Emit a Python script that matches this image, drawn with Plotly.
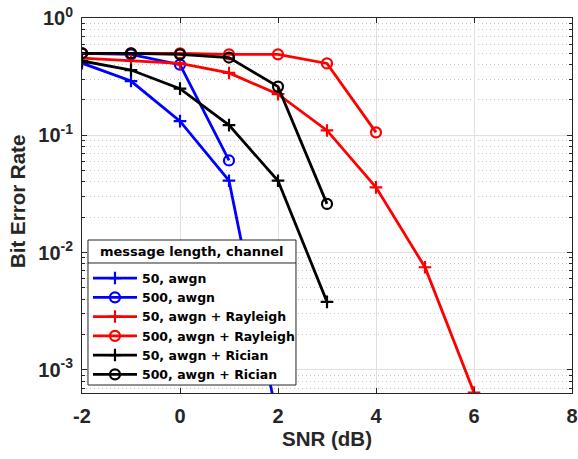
import plotly.graph_objects as go
import numpy as np

snr = [-2, -1, 0, 1, 2, 3, 4, 5, 6]

ber_50_awgn = [0.412, 0.29, 0.132, 0.041, 3.6e-4]
ber_500_awgn = [0.50, 0.49, 0.40, 0.061]
ber_50_rayleigh = [0.455, 0.43, 0.41, 0.34, 0.224, 0.11, 0.036, 0.0075, 6.4e-4]
ber_500_rayleigh = [0.50, 0.50, 0.50, 0.49, 0.49, 0.41, 0.106]
ber_50_rician = [0.43, 0.36, 0.25, 0.122, 0.041, 0.0038]
ber_500_rician = [0.50, 0.50, 0.49, 0.46, 0.26, 0.026]

series = [
    ("50, awgn", ber_50_awgn, "#0000FF", "cross-thin-open"),
    ("500, awgn", ber_500_awgn, "#0000FF", "circle-open"),
    ("50, awgn + Rayleigh", ber_50_rayleigh, "#FF0000", "cross-thin-open"),
    ("500, awgn + Rayleigh", ber_500_rayleigh, "#FF0000", "circle-open"),
    ("50, awgn + Rician", ber_50_rician, "#000000", "cross-thin-open"),
    ("500, awgn + Rician", ber_500_rician, "#000000", "circle-open"),
]
legend_title = "message length, channel"
y_title = "Bit Error Rate"

ytick_vals = [1e-3, 1e-2, 1e-1, 1]
ytick_text = ["10<sup>-3</sup>", "10<sup>-2</sup>", "10<sup>-1</sup>", "10<sup>0</sup>"]
minor_vals = [m * 10.0 ** e for e in (-4, -3, -2, -1) for m in range(2, 10)]

fig = go.Figure()
for name, ys, color, sym in series:
    fig.add_trace(go.Scatter(
        x=snr[:len(ys)], y=ys, name=name, mode="lines+markers",
        line=dict(color=color, width=2.8),
        marker=dict(symbol=sym, size=10 if "circle" in sym else 9,
                    color=color, line=dict(color=color, width=2.2)),
    ))

axcol = "#262626"
fam = "Liberation Sans, Arial, sans-serif"
legfam = "DejaVu Sans, Liberation Sans, sans-serif"

# legend box geometry (paper coords)
bx0, bx1, by0, by1, bsep = 0.0122, 0.4367, 0.0213, 0.408, 0.3467

fig.update_layout(
    width=578, height=459,
    margin=dict(l=82, r=6, t=18, b=66, autoexpand=False),
    paper_bgcolor="white", plot_bgcolor="white",
    font=dict(family=fam, color=axcol),
    showlegend=True,
    legend=dict(
        x=bx0, y=0.3455, xanchor="left", yanchor="top",
        bgcolor="rgba(0,0,0,0)", borderwidth=0,
        font=dict(size=12.5, color="#000000", family=legfam, weight="bold"),
        tracegroupgap=0, itemwidth=44,
    ),
    xaxis=dict(
        range=[-2, 8], tickvals=[-2, 0, 2, 4, 6, 8], ticktext=["-2", "0", "2", "4", "6", "8"],
        showgrid=True, gridcolor="#E0E0E0", gridwidth=1.2,
        showline=True, linecolor=axcol, linewidth=1, mirror="ticks",
        ticks="inside", ticklen=5, tickcolor=axcol, ticklabelstandoff=5,
        ticklabeloverflow="allow",
        tickfont=dict(size=20, weight="bold", color=axcol),
        title=dict(text="SNR (dB)", font=dict(size=20.5, weight="bold", color=axcol), standoff=4),
        zeroline=False, automargin=False,
    ),
    yaxis=dict(
        type="log", range=[np.log10(6.35e-4), 0],
        tickvals=ytick_vals, ticktext=ytick_text,
        showgrid=True, gridcolor="#E0E0E0", gridwidth=1.2,
        minor=dict(tickvals=minor_vals, showgrid=True, gridcolor="#C4C4C4", griddash="1px,3px",
                   gridwidth=1, ticks="inside", ticklen=3, tickcolor=axcol),
        showline=True, linecolor=axcol, linewidth=1, mirror="ticks",
        ticks="inside", ticklen=5, tickcolor=axcol, ticklabelstandoff=4,
        ticklabeloverflow="allow",
        tickfont=dict(size=20, weight="bold", color=axcol),
        zeroline=False, automargin=False,
    ),
)

fig.add_annotation(xref="paper", yref="paper", x=-0.1327, y=0.512, textangle=-90,
                   text=y_title, showarrow=False, xanchor="center", yanchor="middle",
                   font=dict(size=20.5, weight="bold", color=axcol, family=fam))

# legend box with separator under the title
fig.add_shape(type="rect", xref="paper", yref="paper", layer="above",
              x0=bx0, x1=bx1, y0=by0, y1=by1,
              fillcolor="white", line=dict(color="#262626", width=1))
fig.add_shape(type="line", xref="paper", yref="paper", layer="above",
              x0=bx0, x1=bx1, y0=bsep, y1=bsep,
              line=dict(color="#262626", width=1))
fig.add_annotation(xref="paper", yref="paper", x=(bx0 + bx1) / 2, y=(by1 + bsep) / 2,
                   text=legend_title, showarrow=False, xanchor="center", yanchor="middle",
                   font=dict(size=13, weight="bold", color="#000000", family=legfam))

fig.write_html("out.html", config={"displayModeBar": False},
               post_script="document.body.style.margin='0';document.body.style.overflow='hidden';")
